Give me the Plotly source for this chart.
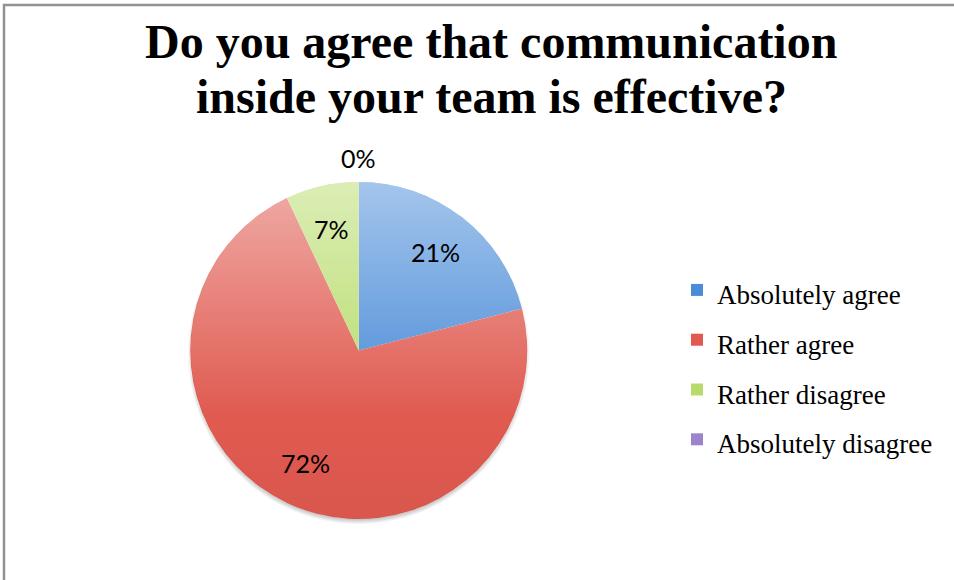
import base64
import math
import struct
import zlib

import numpy as np
import plotly.graph_objects as go

# ---- data -------------------------------------------------------------
categories = ["Absolutely agree", "Rather agree", "Rather disagree", "Absolutely disagree"]
shares = [21, 72, 7, 0]
slice_colors = ["#4a8cd8", "#e05a50", "#b8dc6c", "#9c84cc"]
title_lines = ["Do you agree that communication", "inside your team is effective?"]

# ---- canvas / pie geometry (pixels) -------------------------------------
W, H = 954, 580
CX, CY, R = 358.7, 350.5, 168.5


def px_to_paper(x, y):
    return x / W, 1 - y / H


def png_data_uri(rgba):
    h, w, _ = rgba.shape
    raw = b"".join(b"\x00" + rgba[row].tobytes() for row in range(h))

    def chunk(tag, data):
        body = tag + data
        return struct.pack(">I", len(data)) + body + struct.pack(">I", zlib.crc32(body) & 0xFFFFFFFF)

    png = (b"\x89PNG\r\n\x1a\n"
           + chunk(b"IHDR", struct.pack(">IIBBBBB", w, h, 8, 6, 0, 0, 0))
           + chunk(b"IDAT", zlib.compress(raw, 9))
           + chunk(b"IEND", b""))
    return "data:image/png;base64," + base64.b64encode(png).decode()


def shading_overlay(radius, pad):
    """Light sheen fading downwards over the disc, soft drop shadow outside."""
    size = int(math.ceil(2 * radius + 2 * pad))
    yy, xx = np.mgrid[0:size, 0:size].astype(float) + 0.5
    c = size / 2
    d = np.hypot(xx - c, yy - c)
    cov = np.clip(radius - d + 0.5, 0, 1)
    t = np.clip((yy - (c - radius)) / (2 * radius), 0, 1)
    a_white = 0.5 * np.clip(1 - t / 0.7, 0, 1)
    a_black = 0.03 * np.clip((t - 0.7) / 0.3, 0, 1)
    ds = np.hypot(xx - c, yy - (c + 3))
    shadow = 0.22 * np.clip((radius - ds) / 5 + 0.5, 0, 1)
    aw = a_white * cov
    ab = a_black * cov + shadow * (1 - cov)
    alpha = np.clip(aw + ab, 0, 1)
    grey = np.where(alpha > 0, 255 * aw / np.maximum(alpha, 1e-6), 0)
    img = np.zeros((size, size, 4), dtype=np.uint8)
    img[..., 0] = img[..., 1] = img[..., 2] = np.clip(grey, 0, 255).astype(np.uint8)
    img[..., 3] = np.clip(alpha * 255, 0, 255).astype(np.uint8)
    return img, size


fig = go.Figure()

x0, y1 = px_to_paper(CX - R, CY - R)
x1, y0 = px_to_paper(CX + R, CY + R)

legend_labels = [f'<span style="font-size:27px">{c}</span>' for c in categories]

fig.add_trace(go.Pie(
    labels=legend_labels,
    values=shares,
    marker=dict(colors=slice_colors, line=dict(width=0)),
    sort=False,
    direction="clockwise",
    rotation=0,
    textinfo="none",
    hovertext=categories,
    hoverinfo="text+percent",
    domain=dict(x=[x0, x1], y=[y0, y1]),
))

# percentage labels at each slice's mid-angle
total = sum(shares)
annotations = []
cum = 0.0
for v in shares:
    mid = math.radians((cum + v / 2) / total * 360)
    frac = 0.74 if v > 0 else 1.14
    lx = CX + frac * R * math.sin(mid)
    ly = CY - frac * R * math.cos(mid)
    ax, ay = px_to_paper(lx, ly)
    annotations.append(dict(
        x=ax, y=ay, xref="paper", yref="paper", xanchor="center", yanchor="middle",
        text=f"{v}%", showarrow=False,
        font=dict(family="Lato", size=25, color="#000000"),
    ))
    cum += v

# two-line title
for line, yc in zip(title_lines, [41.1, 96.0]):
    tx, ty = px_to_paper(491, yc)
    annotations.append(dict(
        x=tx, y=ty, xref="paper", yref="paper", xanchor="center", yanchor="middle",
        text=f"<b>{line}</b>", showarrow=False,
        font=dict(family="Liberation Serif", size=48, color="#000000"),
    ))

pad = 8
img, size = shading_overlay(R, pad)
ix, iy = px_to_paper(CX - size / 2, CY - size / 2)

fig.update_layout(
    width=W, height=H,
    margin=dict(l=0, r=0, t=0, b=0),
    paper_bgcolor="white",
    plot_bgcolor="white",
    showlegend=True,
    legend=dict(
        x=677 / W, y=1 - 260 / H, xanchor="left", yanchor="top",
        font=dict(family="Liberation Serif", size=36, color="#000000"),
        bgcolor="rgba(0,0,0,0)",
        itemclick=False, itemdoubleclick=False,
    ),
    annotations=annotations,
    images=[dict(
        source=png_data_uri(img), xref="paper", yref="paper",
        x=ix, y=iy, sizex=size / W, sizey=size / H,
        xanchor="left", yanchor="top", sizing="stretch", layer="above",
    )],
    shapes=[dict(
        type="rect", xref="paper", yref="paper",
        x0=4 / W, y0=-0.05, x1=1.05, y1=1 - 5 / H,
        line=dict(color="#929292", width=2.5), fillcolor="rgba(0,0,0,0)",
    )],
)

fig.write_html("out.html")
